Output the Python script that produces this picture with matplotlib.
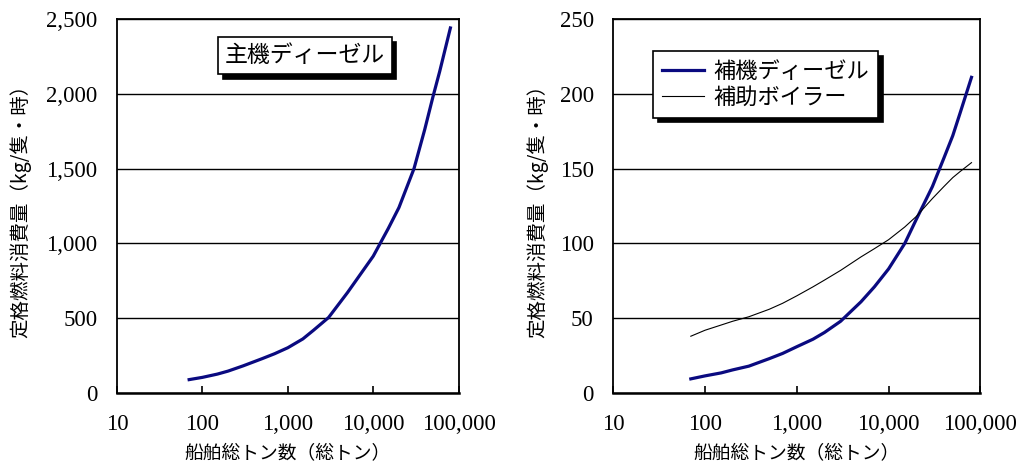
import matplotlib
matplotlib.use("Agg")
import matplotlib.pyplot as plt
from matplotlib.lines import Line2D
from matplotlib.ticker import FixedLocator, FuncFormatter, NullLocator

# -- Data ----------------------------------------------------------------------
GT = [70, 100, 150, 200, 300, 500, 700, 1000, 1500, 2000, 3000, 5000, 7000,
      10000, 15000, 20000, 30000, 40000, 50000, 60000, 80000]
MAIN_DIESEL = [90, 105, 127, 147, 182, 230, 263, 303, 362, 420, 505, 672, 790,
               915, 1100, 1240, 1500, 1760, 1980, 2150, 2440]
AUX_DIESEL = [9.5, 11.5, 13.5, 15.5, 18, 23, 26.5, 31, 36, 40.5, 48, 61, 71,
              83, 100, 116, 138, 157, 172, 187, 211]
AUX_BOILER = [38, 42, 45.5, 48, 51, 56, 60, 65, 71, 75.5, 82, 91, 96.5,
              102.5, 111, 118, 130, 138, 144, 148, 154]

X_TICKS = [10, 100, 1000, 10000, 100000]
Y_TICKS_L = [0, 500, 1000, 1500, 2000, 2500]
Y_TICKS_R = [0, 50, 100, 150, 200, 250]

XLABEL = "船舶総トン数（総トン）"
YLABEL = "定格燃料消費量（kg/隻・時）"

# -- Style ---------------------------------------------------------------------
NAVY = "#0a0a80"
JP = ["Noto Sans CJK JP", "DejaVu Sans"]
NUM = "Liberation Serif"
SHADOW = {"ox": 3.5, "oy": -3.5, "facecolor": "black", "edgecolor": "black", "alpha": 1}

fig = plt.figure(figsize=(10.17, 4.63), dpi=100)
ax1 = fig.add_axes([0.115, 0.151, 0.336, 0.808])
ax2 = fig.add_axes([0.603, 0.151, 0.361, 0.808])

comma = FuncFormatter(lambda v, _: f"{int(v):,}")


def style_axes(ax, yticks, ylab_x):
    ax.set_xscale("log")
    ax.set_xlim(10, 100000)
    ax.set_ylim(yticks[0], yticks[-1])
    ax.xaxis.set_major_locator(FixedLocator(X_TICKS))
    ax.xaxis.set_minor_locator(NullLocator())
    ax.xaxis.set_major_formatter(comma)
    ax.set_yticks(yticks)
    ax.yaxis.set_major_formatter(comma)
    ax.grid(True, axis="y", color="black", linewidth=1.0)
    ax.set_axisbelow(True)
    for s in ax.spines.values():
        s.set_linewidth(1.3)
    ax.spines["bottom"].set_linewidth(1.8)
    ax.tick_params(axis="x", direction="in", length=5, width=1.2, pad=15,
                   labelsize=16.5, top=False)
    ax.tick_params(axis="y", length=0, pad=14, labelsize=16.5)
    for lab in ax.get_xticklabels() + ax.get_yticklabels():
        lab.set_family(NUM)
    ax.set_xlabel(XLABEL, family=JP, fontsize=13.5)
    ax.xaxis.set_label_coords(0.5, -0.135)
    ax.set_ylabel(YLABEL, family=JP, fontsize=14)
    ax.yaxis.set_label_coords(ylab_x, 0.5)


# -- Left: main diesel ---------------------------------------------------------
ax1.plot(GT, MAIN_DIESEL, color=NAVY, linewidth=2.3)
style_axes(ax1, Y_TICKS_L, -0.25)
leg1 = ax1.legend(handles=[Line2D([], [], linestyle="none")], labels=["主機ディーゼル"],
                  loc="upper left", bbox_to_anchor=(0.295, 0.952), borderaxespad=0,
                  handlelength=0, handletextpad=0, borderpad=0.3,
                  fancybox=False, framealpha=1, edgecolor="black",
                  shadow=SHADOW, prop={"family": JP, "size": 16.5})
leg1.get_frame().set_linewidth(1.2)

# -- Right: aux diesel & boiler ------------------------------------------------
ax2.plot(GT, AUX_DIESEL, color=NAVY, linewidth=2.3, label="補機ディーゼル")
ax2.plot(GT, AUX_BOILER, color="black", linewidth=0.8, label="補助ボイラー")
style_axes(ax2, Y_TICKS_R, -0.178)
leg2 = ax2.legend(loc="upper left", bbox_to_anchor=(0.109, 0.914), borderaxespad=0,
                  handlelength=1.9, handletextpad=0.4, borderpad=0.4,
                  labelspacing=0.12, fancybox=False, framealpha=1,
                  edgecolor="black", shadow=SHADOW,
                  prop={"family": JP, "size": 16})
leg2.get_frame().set_linewidth(1.2)

fig.savefig("out.png", dpi=100)
